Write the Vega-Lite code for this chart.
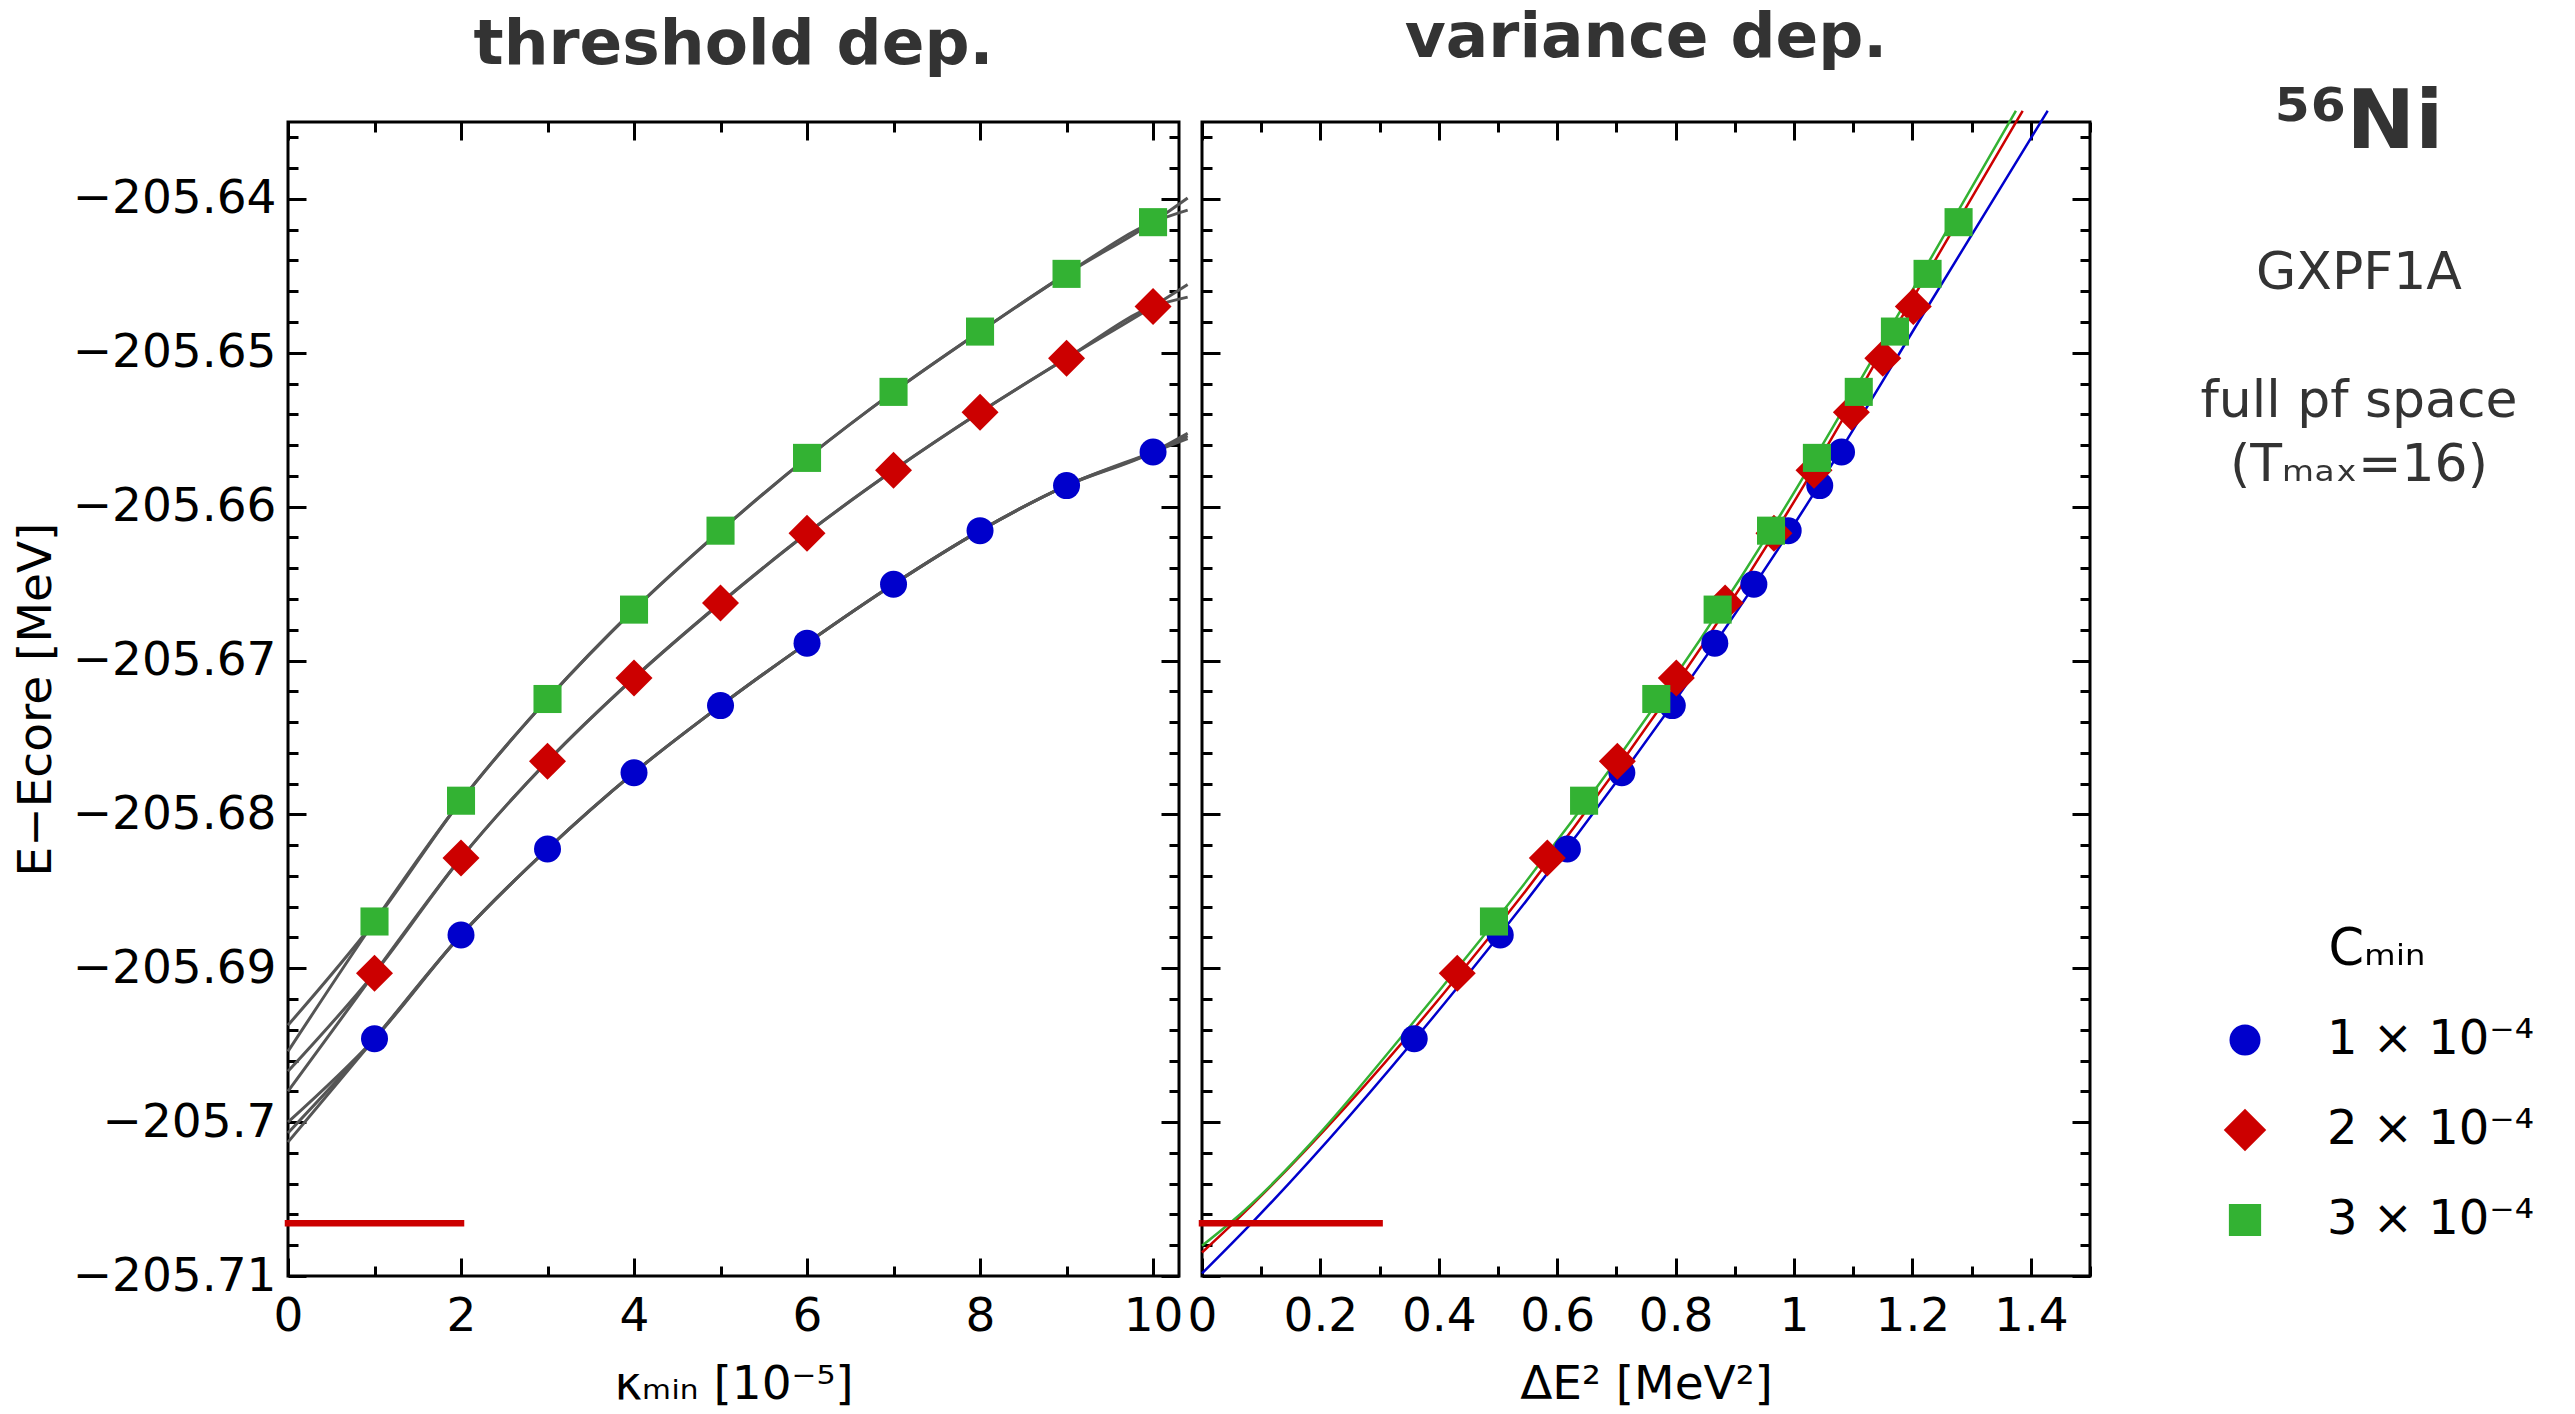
{
  "$schema": "https://vega.github.io/schema/vega-lite/v6.json",
  "background": "white",
  "padding": {"left": 10, "top": 5, "right": 5, "bottom": 5},
  "datasets": {
    "markers": [
      {"Cmin": "1 × 10⁻⁴", "kappa": 1, "dE2": 0.3585, "E": -205.69458},
      {"Cmin": "1 × 10⁻⁴", "kappa": 2, "dE2": 0.5038, "E": -205.68784},
      {"Cmin": "1 × 10⁻⁴", "kappa": 3, "dE2": 0.6172, "E": -205.68225},
      {"Cmin": "1 × 10⁻⁴", "kappa": 4, "dE2": 0.7092, "E": -205.67729},
      {"Cmin": "1 × 10⁻⁴", "kappa": 5, "dE2": 0.7944, "E": -205.67293},
      {"Cmin": "1 × 10⁻⁴", "kappa": 6, "dE2": 0.8662, "E": -205.66887},
      {"Cmin": "1 × 10⁻⁴", "kappa": 7, "dE2": 0.9322, "E": -205.66504},
      {"Cmin": "1 × 10⁻⁴", "kappa": 8, "dE2": 0.9902, "E": -205.66156},
      {"Cmin": "1 × 10⁻⁴", "kappa": 9, "dE2": 1.0435, "E": -205.65863},
      {"Cmin": "1 × 10⁻⁴", "kappa": 10, "dE2": 1.0803, "E": -205.65645},
      {"Cmin": "2 × 10⁻⁴", "kappa": 1, "dE2": 0.4312, "E": -205.69032},
      {"Cmin": "2 × 10⁻⁴", "kappa": 2, "dE2": 0.5833, "E": -205.68283},
      {"Cmin": "2 × 10⁻⁴", "kappa": 3, "dE2": 0.7016, "E": -205.67655},
      {"Cmin": "2 × 10⁻⁴", "kappa": 4, "dE2": 0.8012, "E": -205.67113},
      {"Cmin": "2 × 10⁻⁴", "kappa": 5, "dE2": 0.8837, "E": -205.66626},
      {"Cmin": "2 × 10⁻⁴", "kappa": 6, "dE2": 0.9661, "E": -205.66173},
      {"Cmin": "2 × 10⁻⁴", "kappa": 7, "dE2": 1.0338, "E": -205.65764},
      {"Cmin": "2 × 10⁻⁴", "kappa": 8, "dE2": 1.0969, "E": -205.65387},
      {"Cmin": "2 × 10⁻⁴", "kappa": 9, "dE2": 1.15, "E": -205.65036},
      {"Cmin": "2 × 10⁻⁴", "kappa": 10, "dE2": 1.2015, "E": -205.64699},
      {"Cmin": "3 × 10⁻⁴", "kappa": 1, "dE2": 0.4932, "E": -205.68696},
      {"Cmin": "3 × 10⁻⁴", "kappa": 2, "dE2": 0.6454, "E": -205.67911},
      {"Cmin": "3 × 10⁻⁴", "kappa": 3, "dE2": 0.7674, "E": -205.6725},
      {"Cmin": "3 × 10⁻⁴", "kappa": 4, "dE2": 0.871, "E": -205.66669},
      {"Cmin": "3 × 10⁻⁴", "kappa": 5, "dE2": 0.9612, "E": -205.66156},
      {"Cmin": "3 × 10⁻⁴", "kappa": 6, "dE2": 1.0387, "E": -205.65683},
      {"Cmin": "3 × 10⁻⁴", "kappa": 7, "dE2": 1.1094, "E": -205.65254},
      {"Cmin": "3 × 10⁻⁴", "kappa": 8, "dE2": 1.1705, "E": -205.64862},
      {"Cmin": "3 × 10⁻⁴", "kappa": 9, "dE2": 1.2256, "E": -205.64487},
      {"Cmin": "3 × 10⁻⁴", "kappa": 10, "dE2": 1.278, "E": -205.64151}
    ],
    "thresholdFits": [
      {"fit": "b1", "kappa": 0, "E": -205.7},
      {"fit": "b1", "kappa": 1, "E": -205.69458},
      {"fit": "b1", "kappa": 2, "E": -205.68784},
      {"fit": "b1", "kappa": 3, "E": -205.68225},
      {"fit": "b1", "kappa": 4, "E": -205.67729},
      {"fit": "b1", "kappa": 5, "E": -205.67293},
      {"fit": "b1", "kappa": 6, "E": -205.66887},
      {"fit": "b1", "kappa": 7, "E": -205.66504},
      {"fit": "b1", "kappa": 8, "E": -205.66156},
      {"fit": "b1", "kappa": 9, "E": -205.65863},
      {"fit": "b1", "kappa": 10, "E": -205.65645},
      {"fit": "b1", "kappa": 10.4, "E": -205.65523},
      {"fit": "b2", "kappa": 0, "E": -205.7007},
      {"fit": "b2", "kappa": 1, "E": -205.69458},
      {"fit": "b2", "kappa": 2, "E": -205.68784},
      {"fit": "b2", "kappa": 3, "E": -205.68225},
      {"fit": "b2", "kappa": 4, "E": -205.67729},
      {"fit": "b2", "kappa": 5, "E": -205.67293},
      {"fit": "b2", "kappa": 6, "E": -205.66887},
      {"fit": "b2", "kappa": 7, "E": -205.66504},
      {"fit": "b2", "kappa": 8, "E": -205.66156},
      {"fit": "b2", "kappa": 9, "E": -205.65863},
      {"fit": "b2", "kappa": 10, "E": -205.65645},
      {"fit": "b2", "kappa": 10.4, "E": -205.6554},
      {"fit": "b3", "kappa": 0, "E": -205.7013},
      {"fit": "b3", "kappa": 1, "E": -205.69458},
      {"fit": "b3", "kappa": 2, "E": -205.68784},
      {"fit": "b3", "kappa": 3, "E": -205.68225},
      {"fit": "b3", "kappa": 4, "E": -205.67729},
      {"fit": "b3", "kappa": 5, "E": -205.67293},
      {"fit": "b3", "kappa": 6, "E": -205.66887},
      {"fit": "b3", "kappa": 7, "E": -205.66504},
      {"fit": "b3", "kappa": 8, "E": -205.66156},
      {"fit": "b3", "kappa": 9, "E": -205.65863},
      {"fit": "b3", "kappa": 10, "E": -205.65645},
      {"fit": "b3", "kappa": 10.4, "E": -205.65558},
      {"fit": "r1", "kappa": 0, "E": -205.6967},
      {"fit": "r1", "kappa": 1, "E": -205.69032},
      {"fit": "r1", "kappa": 2, "E": -205.68283},
      {"fit": "r1", "kappa": 3, "E": -205.67655},
      {"fit": "r1", "kappa": 4, "E": -205.67113},
      {"fit": "r1", "kappa": 5, "E": -205.66626},
      {"fit": "r1", "kappa": 6, "E": -205.66173},
      {"fit": "r1", "kappa": 7, "E": -205.65764},
      {"fit": "r1", "kappa": 8, "E": -205.65387},
      {"fit": "r1", "kappa": 9, "E": -205.65036},
      {"fit": "r1", "kappa": 10, "E": -205.64699},
      {"fit": "r1", "kappa": 10.4, "E": -205.64557},
      {"fit": "r2", "kappa": 0, "E": -205.698},
      {"fit": "r2", "kappa": 1, "E": -205.69032},
      {"fit": "r2", "kappa": 2, "E": -205.68283},
      {"fit": "r2", "kappa": 3, "E": -205.67655},
      {"fit": "r2", "kappa": 4, "E": -205.67113},
      {"fit": "r2", "kappa": 5, "E": -205.66626},
      {"fit": "r2", "kappa": 6, "E": -205.66173},
      {"fit": "r2", "kappa": 7, "E": -205.65764},
      {"fit": "r2", "kappa": 8, "E": -205.65387},
      {"fit": "r2", "kappa": 9, "E": -205.65036},
      {"fit": "r2", "kappa": 10, "E": -205.64699},
      {"fit": "r2", "kappa": 10.4, "E": -205.64638},
      {"fit": "g1", "kappa": 0, "E": -205.6937},
      {"fit": "g1", "kappa": 1, "E": -205.68696},
      {"fit": "g1", "kappa": 2, "E": -205.67911},
      {"fit": "g1", "kappa": 3, "E": -205.6725},
      {"fit": "g1", "kappa": 4, "E": -205.66669},
      {"fit": "g1", "kappa": 5, "E": -205.66156},
      {"fit": "g1", "kappa": 6, "E": -205.65683},
      {"fit": "g1", "kappa": 7, "E": -205.65254},
      {"fit": "g1", "kappa": 8, "E": -205.64862},
      {"fit": "g1", "kappa": 9, "E": -205.64487},
      {"fit": "g1", "kappa": 10, "E": -205.64151},
      {"fit": "g1", "kappa": 10.4, "E": -205.63994},
      {"fit": "g2", "kappa": 0, "E": -205.6954},
      {"fit": "g2", "kappa": 1, "E": -205.68696},
      {"fit": "g2", "kappa": 2, "E": -205.67911},
      {"fit": "g2", "kappa": 3, "E": -205.6725},
      {"fit": "g2", "kappa": 4, "E": -205.66669},
      {"fit": "g2", "kappa": 5, "E": -205.66156},
      {"fit": "g2", "kappa": 6, "E": -205.65683},
      {"fit": "g2", "kappa": 7, "E": -205.65254},
      {"fit": "g2", "kappa": 8, "E": -205.64862},
      {"fit": "g2", "kappa": 9, "E": -205.64487},
      {"fit": "g2", "kappa": 10, "E": -205.64151},
      {"fit": "g2", "kappa": 10.4, "E": -205.64073}
    ],
    "varianceFits": [
      {"Cmin": "1 × 10⁻⁴", "dE2": 0, "E": -205.70983},
      {"Cmin": "1 × 10⁻⁴", "dE2": 0.0839, "E": -205.70656},
      {"Cmin": "1 × 10⁻⁴", "dE2": 0.427, "E": -205.69146},
      {"Cmin": "1 × 10⁻⁴", "dE2": 1.015, "E": -205.660265},
      {"Cmin": "1 × 10⁻⁴", "dE2": 1.2218, "E": -205.647266},
      {"Cmin": "1 × 10⁻⁴", "dE2": 1.4285, "E": -205.63427},
      {"Cmin": "2 × 10⁻⁴", "dE2": 0, "E": -205.70847},
      {"Cmin": "2 × 10⁻⁴", "dE2": 0.053, "E": -205.70656},
      {"Cmin": "2 × 10⁻⁴", "dE2": 0.4119, "E": -205.69146},
      {"Cmin": "2 × 10⁻⁴", "dE2": 0.9907, "E": -205.660265},
      {"Cmin": "2 × 10⁻⁴", "dE2": 1.1885, "E": -205.647266},
      {"Cmin": "2 × 10⁻⁴", "dE2": 1.3863, "E": -205.63427},
      {"Cmin": "3 × 10⁻⁴", "dE2": 0, "E": -205.70804},
      {"Cmin": "3 × 10⁻⁴", "dE2": 0.0473, "E": -205.70656},
      {"Cmin": "3 × 10⁻⁴", "dE2": 0.4007, "E": -205.69146},
      {"Cmin": "3 × 10⁻⁴", "dE2": 0.9813, "E": -205.660265},
      {"Cmin": "3 × 10⁻⁴", "dE2": 1.18, "E": -205.647266},
      {"Cmin": "3 × 10⁻⁴", "dE2": 1.375, "E": -205.63427}
    ],
    "exact": [
      {"E": -205.70657, "kappaFrom": 0, "kappaTo": 2, "dE2From": 0, "dE2To": 0.3}
    ]
  },
  "config": {
    "font": "DejaVu Sans",
    "view": {"stroke": "black", "strokeWidth": 3},
    "axis": {
      "grid": false,
      "domain": false,
      "tickColor": "black",
      "tickWidth": 3,
      "labelFont": "DejaVu Sans",
      "labelFontSize": 47,
      "labelColor": "black",
      "labelLimit": 0,
      "labelFlush": false,
      "labelOverlap": false,
      "labelBound": false,
      "titleFont": "DejaVu Sans",
      "titleFontSize": 47,
      "titleFontWeight": "normal",
      "titleColor": "black",
      "titleLimit": 0
    },
    "title": {
      "font": "DejaVu Sans",
      "fontSize": 63,
      "fontWeight": "bold",
      "color": "#333333",
      "anchor": "middle",
      "frame": "group",
      "offset": 36
    }
  },
  "bounds": "flush",
  "spacing": 23,
  "hconcat": [
    {
      "title": "threshold dep.",
      "width": 891,
      "height": 1154,
      "resolve": {"axis": {"x": "independent", "y": "independent"}},
      "layer": [
        {
          "data": {"name": "thresholdFits"},
          "mark": {"type": "line", "color": "#555555", "strokeWidth": 3, "interpolate": "monotone", "clip": false},
          "encoding": {
            "x": {
              "field": "kappa", "type": "quantitative",
              "scale": {"domain": [0, 10.3], "nice": false, "zero": false},
              "axis": {
                "orient": "bottom",
                "values": [0, 1, 2, 3, 4, 5, 6, 7, 8, 9, 10],
                "format": "d",
                "tickSize": {"condition": {"test": "datum.value % 2 === 0", "value": -18}, "value": -10},
                "labelExpr": "datum.value % 2 === 0 ? datum.label : ''",
                "labelPadding": 35,
                "title": "κₘᵢₙ  [10⁻⁵]",
                "titlePadding": 14
              }
            },
            "y": {
              "field": "E", "type": "quantitative",
              "scale": {"domain": [-205.71, -205.635], "nice": false, "zero": false},
              "axis": {
                "orient": "left",
                "values": [-205.71, -205.708, -205.706, -205.704, -205.702, -205.7, -205.698, -205.696, -205.694, -205.692, -205.69, -205.688, -205.686, -205.684, -205.682, -205.68, -205.678, -205.676, -205.674, -205.672, -205.67, -205.668, -205.666, -205.664, -205.662, -205.66, -205.658, -205.656, -205.654, -205.652, -205.65, -205.648, -205.646, -205.644, -205.642, -205.64, -205.638, -205.636],
                "format": ".2~f",
                "tickSize": {"condition": {"test": "abs(datum.value*100 - round(datum.value*100)) < 1e-6", "value": -18}, "value": -10},
                "labelExpr": "abs(datum.value*100 - round(datum.value*100)) < 1e-6 ? datum.label : ''",
                "labelPadding": 30,
                "title": "E−Ecore  [MeV]",
                "titlePadding": 28
              }
            },
            "detail": {"field": "fit"}
          }
        },
        {
          "data": {"name": "exact"},
          "mark": {"type": "rule", "color": "#cc0000", "strokeWidth": 6.5, "strokeCap": "square"},
          "encoding": {
            "x": {"field": "kappaFrom", "type": "quantitative", "axis": null},
            "x2": {"field": "kappaTo"},
            "y": {"field": "E", "type": "quantitative", "axis": null}
          }
        },
        {
          "data": {"name": "markers"},
          "mark": {"type": "point", "filled": true, "opacity": 1, "strokeWidth": 0, "size": 729},
          "encoding": {
            "x": {
              "field": "kappa", "type": "quantitative",
              "axis": {
                "orient": "top",
                "values": [0, 1, 2, 3, 4, 5, 6, 7, 8, 9, 10],
                "tickSize": {"condition": {"test": "datum.value % 2 === 0", "value": -18}, "value": -10},
                "labels": false,
                "title": null
              }
            },
            "y": {
              "field": "E", "type": "quantitative",
              "axis": {
                "orient": "right",
                "values": [-205.71, -205.708, -205.706, -205.704, -205.702, -205.7, -205.698, -205.696, -205.694, -205.692, -205.69, -205.688, -205.686, -205.684, -205.682, -205.68, -205.678, -205.676, -205.674, -205.672, -205.67, -205.668, -205.666, -205.664, -205.662, -205.66, -205.658, -205.656, -205.654, -205.652, -205.65, -205.648, -205.646, -205.644, -205.642, -205.64, -205.638, -205.636],
                "tickSize": {"condition": {"test": "abs(datum.value*100 - round(datum.value*100)) < 1e-6", "value": -18}, "value": -10},
                "labels": false,
                "title": null
              }
            },
            "color": {
              "field": "Cmin", "type": "nominal",
              "scale": {"domain": ["1 × 10⁻⁴", "2 × 10⁻⁴", "3 × 10⁻⁴"], "range": ["#0000cc", "#cc0000", "#33b233"]},
              "legend": {
                "title": "Cₘᵢₙ",
                "orient": "none",
                "legendX": 1933,
                "legendY": 803,
                "padding": 0,
                "titleFont": "DejaVu Sans",
                "titleFontSize": 51,
                "titleFontWeight": "normal",
                "titleColor": "black",
                "titleAnchor": "middle",
                "titlePadding": 40,
                "titleLimit": 0,
                "labelFont": "DejaVu Sans",
                "labelFontSize": 48,
                "labelColor": "black",
                "labelLimit": 0,
                "labelOffset": 58,
                "rowPadding": 42,
                "symbolSize": 961,
                "symbolStrokeWidth": 0
              }
            },
            "shape": {
              "field": "Cmin", "type": "nominal",
              "scale": {"domain": ["1 × 10⁻⁴", "2 × 10⁻⁴", "3 × 10⁻⁴"], "range": ["circle", "M-1.37,0L0,-1.37L1.37,0L0,1.37Z", "M-1.04,-1.04H1.04V1.04H-1.04Z"]}
            }
          }
        }
      ]
    },
    {
      "title": "variance dep.",
      "width": 888,
      "height": 1154,
      "resolve": {"axis": {"x": "independent", "y": "independent"}},
      "layer": [
        {
          "data": {"name": "varianceFits"},
          "mark": {"type": "line", "strokeWidth": 2.5, "interpolate": "monotone", "clip": false},
          "encoding": {
            "x": {
              "field": "dE2", "type": "quantitative",
              "scale": {"domain": [0, 1.5], "nice": false, "zero": false},
              "axis": {
                "orient": "bottom",
                "values": [0, 0.1, 0.2, 0.3, 0.4, 0.5, 0.6, 0.7, 0.8, 0.9, 1, 1.1, 1.2, 1.3, 1.4, 1.5],
                "format": ".1~f",
                "tickSize": {"condition": {"test": "abs(datum.value*5 - round(datum.value*5)) < 1e-6", "value": -18}, "value": -10},
                "labelExpr": "abs(datum.value*5 - round(datum.value*5)) < 1e-6 && datum.value < 1.45 ? datum.label : ''",
                "labelPadding": 35,
                "title": "ΔE²  [MeV²]",
                "titlePadding": 14
              }
            },
            "y": {
              "field": "E", "type": "quantitative",
              "scale": {"domain": [-205.71, -205.635], "nice": false, "zero": false},
              "axis": {
                "orient": "left",
                "values": [-205.71, -205.708, -205.706, -205.704, -205.702, -205.7, -205.698, -205.696, -205.694, -205.692, -205.69, -205.688, -205.686, -205.684, -205.682, -205.68, -205.678, -205.676, -205.674, -205.672, -205.67, -205.668, -205.666, -205.664, -205.662, -205.66, -205.658, -205.656, -205.654, -205.652, -205.65, -205.648, -205.646, -205.644, -205.642, -205.64, -205.638, -205.636],
                "tickSize": {"condition": {"test": "abs(datum.value*100 - round(datum.value*100)) < 1e-6", "value": -18}, "value": -10},
                "labels": false,
                "title": null
              }
            },
            "stroke": {
              "field": "Cmin", "type": "nominal",
              "scale": {"domain": ["1 × 10⁻⁴", "2 × 10⁻⁴", "3 × 10⁻⁴"], "range": ["#0000cc", "#cc0000", "#33b233"]},
              "legend": null
            }
          }
        },
        {
          "data": {"name": "exact"},
          "mark": {"type": "rule", "color": "#cc0000", "strokeWidth": 6.5, "strokeCap": "square"},
          "encoding": {
            "x": {"field": "dE2From", "type": "quantitative", "axis": null},
            "x2": {"field": "dE2To"},
            "y": {"field": "E", "type": "quantitative", "axis": null}
          }
        },
        {
          "data": {"name": "markers"},
          "mark": {"type": "point", "filled": true, "opacity": 1, "strokeWidth": 0, "size": 729},
          "encoding": {
            "x": {
              "field": "dE2", "type": "quantitative",
              "axis": {
                "orient": "top",
                "values": [0, 0.1, 0.2, 0.3, 0.4, 0.5, 0.6, 0.7, 0.8, 0.9, 1, 1.1, 1.2, 1.3, 1.4, 1.5],
                "tickSize": {"condition": {"test": "abs(datum.value*5 - round(datum.value*5)) < 1e-6", "value": -18}, "value": -10},
                "labels": false,
                "title": null
              }
            },
            "y": {
              "field": "E", "type": "quantitative",
              "axis": {
                "orient": "right",
                "values": [-205.71, -205.708, -205.706, -205.704, -205.702, -205.7, -205.698, -205.696, -205.694, -205.692, -205.69, -205.688, -205.686, -205.684, -205.682, -205.68, -205.678, -205.676, -205.674, -205.672, -205.67, -205.668, -205.666, -205.664, -205.662, -205.66, -205.658, -205.656, -205.654, -205.652, -205.65, -205.648, -205.646, -205.644, -205.642, -205.64, -205.638, -205.636],
                "tickSize": {"condition": {"test": "abs(datum.value*100 - round(datum.value*100)) < 1e-6", "value": -18}, "value": -10},
                "labels": false,
                "title": null
              }
            },
            "color": {
              "field": "Cmin", "type": "nominal",
              "scale": {"domain": ["1 × 10⁻⁴", "2 × 10⁻⁴", "3 × 10⁻⁴"], "range": ["#0000cc", "#cc0000", "#33b233"]}
            },
            "shape": {
              "field": "Cmin", "type": "nominal",
              "scale": {"domain": ["1 × 10⁻⁴", "2 × 10⁻⁴", "3 × 10⁻⁴"], "range": ["circle", "M-1.37,0L0,-1.37L1.37,0L0,1.37Z", "M-1.04,-1.04H1.04V1.04H-1.04Z"]}
            }
          }
        }
      ]
    },
    {
      "width": 400,
      "height": 10,
      "view": {"stroke": null},
      "data": {"values": []},
      "mark": "point",
      "title": {
        "text": "⁵⁶Ni",
        "subtitle": ["GXPF1A", "\u2800", "full pf space", "(Tₘₐₓ=16)"],
        "orient": "bottom",
        "offset": -49,
        "dx": 46,
        "fontSize": 82,
        "fontWeight": "bold",
        "color": "#333333",
        "subtitleFont": "DejaVu Sans",
        "subtitleFontSize": 52,
        "subtitleColor": "#333333",
        "subtitleLineHeight": 64,
        "subtitlePadding": 83
      }
    }
  ]
}
